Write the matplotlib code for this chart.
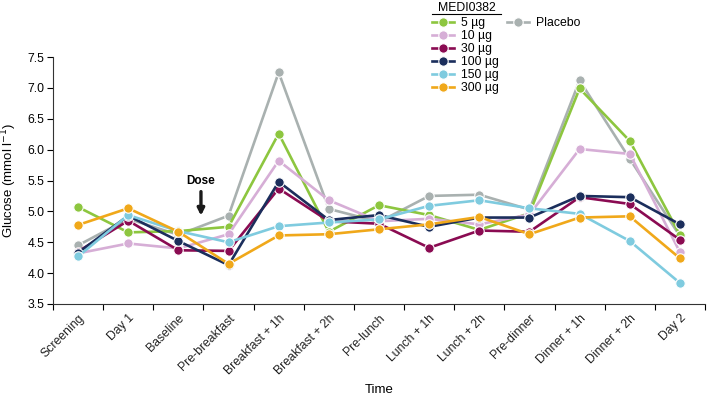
import matplotlib
matplotlib.use("Agg")
import matplotlib.pyplot as plt
from matplotlib.lines import Line2D

plt.rcParams['font.family'] = ['Liberation Sans', 'DejaVu Sans']

categories = ["Screening", "Day 1", "Baseline", "Pre-breakfast", "Breakfast + 1h",
              "Breakfast + 2h", "Pre-lunch", "Lunch + 1h", "Lunch + 2h", "Pre-dinner",
              "Dinner + 1h", "Dinner + 2h", "Day 2"]

dose_5 = [5.07, 4.66, 4.68, 4.75, 6.26, 4.67, 5.10, 4.94, 4.70, 4.97, 6.99, 6.14, 4.62]
dose_10 = [4.32, 4.48, 4.40, 4.63, 5.82, 5.18, 4.84, 4.88, 4.79, 4.95, 6.01, 5.93, 4.34]
dose_30 = [4.35, 4.85, 4.37, 4.36, 5.37, 4.84, 4.80, 4.41, 4.69, 4.67, 5.23, 5.12, 4.54]
dose_100 = [4.33, 4.93, 4.52, 4.13, 5.48, 4.86, 4.94, 4.75, 4.90, 4.90, 5.25, 5.23, 4.79]
dose_150 = [4.27, 4.94, 4.68, 4.50, 4.76, 4.82, 4.87, 5.09, 5.18, 5.05, 4.96, 4.52, 3.84]
dose_300 = [4.78, 5.05, 4.67, 4.15, 4.61, 4.63, 4.71, 4.79, 4.91, 4.63, 4.90, 4.92, 4.24]
placebo = [4.45, 4.88, 4.62, 4.93, 7.25, 5.04, 4.83, 5.25, 5.27, 5.03, 7.12, 5.85, 4.60]

series_labels = ["5 µg", "10 µg", "30 µg", "100 µg", "150 µg", "300 µg"]
series_values = [dose_5, dose_10, dose_30, dose_100, dose_150, dose_300]
series_colors = ["#8DC63F", "#D6AED6", "#8A0B52", "#1B2E5C", "#7FCBDF", "#F0A81A"]
placebo_color = "#A9B1B0"

fig = plt.figure(figsize=(7.09, 4.0), dpi=100)
ax = fig.add_axes([53/709, 1-304/400, (705-53)/709, (304-57)/400])

x = list(range(len(categories)))
lw = 1.9
ms = 6.8

def draw(vals, color, label, z):
    return ax.plot(x, vals, color=color, lw=lw, marker='o', ms=ms,
                   markeredgecolor='white', markeredgewidth=0.8,
                   label=label, zorder=z, clip_on=False)[0]

hp = draw(placebo, placebo_color, "Placebo", 2)
handles = []
for i, (lab, vals, col) in enumerate(zip(series_labels, series_values, series_colors)):
    handles.append(draw(vals, col, lab, 3 + i))

ax.set_xlim(-0.5, 12.5)
ax.set_ylim(3.5, 7.5)
ax.set_yticks([3.5, 4.0, 4.5, 5.0, 5.5, 6.0, 6.5, 7.0, 7.5])
ax.set_yticklabels(["3.5", "4.0", "4.5", "5.0", "5.5", "6.0", "6.5", "7.0", "7.5"])
ax.set_xticks(x)
ax.set_xticklabels(categories, rotation=45, ha='right', rotation_mode='anchor')
ax.set_xticks([i - 0.5 for i in range(len(categories) + 1)], minor=True)
ax.tick_params(axis='x', which='major', length=0, pad=6, labelsize=8.8, colors='#222222')
ax.tick_params(axis='x', which='minor', length=4, width=0.8, direction='out')
ax.tick_params(axis='y', length=4, width=0.8, direction='out', labelsize=8.8, pad=2)
for s in ['top', 'right']:
    ax.spines[s].set_visible(False)
for s in ['left', 'bottom']:
    ax.spines[s].set_linewidth(0.8)
    ax.spines[s].set_color('#333333')

ax.set_ylabel("Glucose (mmol l$^{-1}$)", fontsize=9.5, labelpad=6)
ax.set_xlabel("Time", fontsize=9.5)
ax.xaxis.set_label_coords(0.5, -0.325)

# Dose annotation
ax.annotate("", xy=(2.45, 4.93), xytext=(2.45, 5.32),
            arrowprops=dict(arrowstyle='-|>', color='#1a1a1a', lw=2.4,
                            mutation_scale=10, shrinkA=0, shrinkB=0))
ax.text(2.45, 5.40, "Dose", ha='center', va='bottom', fontsize=8.5, fontweight='bold')

leg1 = fig.legend(handles=handles, loc='upper left', bbox_to_anchor=(432/709, 1-17/400),
                  frameon=False, fontsize=8.8, handlelength=1.8, handletextpad=0.55,
                  labelspacing=0.08, borderpad=0, borderaxespad=0)
fig.text(467/709, 1-8/400, "MEDI0382", ha='center', va='center', fontsize=8.8)
fig.add_artist(Line2D([432/709, 501/709], [1-14/400, 1-14/400], color='black', lw=0.8))
leg2 = fig.legend(handles=[hp], loc='upper left', bbox_to_anchor=(507/709, 1-17/400),
                  frameon=False, fontsize=8.8, handlelength=1.8, handletextpad=0.55,
                  borderpad=0, borderaxespad=0)

fig.savefig("out.png", dpi=100)
